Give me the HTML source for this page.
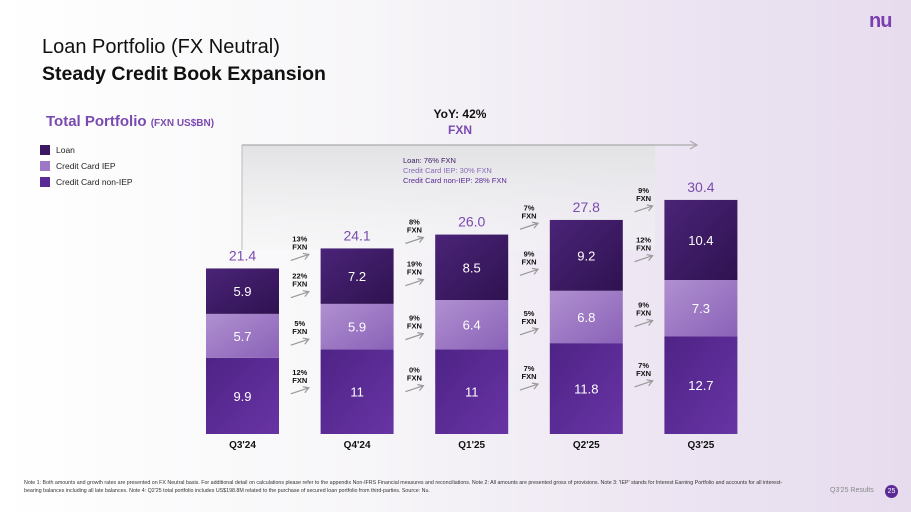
<!DOCTYPE html>
<html><head><meta charset="utf-8">
<style>
body{margin:0;width:911px;height:512px;overflow:hidden;font-family:"Liberation Sans",sans-serif;
background:linear-gradient(90deg,#ffffff 0%,#f7f6f8 40%,#ece4f2 75%,#e6dcee 100%);position:relative}
.abs{position:absolute}
.leg{position:absolute;left:40px;font-size:8.5px;color:#222;display:flex;align-items:center}
.leg i{display:inline-block;width:10px;height:10px;margin-right:6px}
</style></head><body>
<svg class="abs" style="left:0;top:0" width="911" height="512" id="chart">
<defs>
<linearGradient id="gb" x1="0" y1="0" x2="0" y2="1"><stop offset="0" stop-color="#e2e2e4"/><stop offset="1" stop-color="#f4f4f5" stop-opacity="0.4"/></linearGradient>
<linearGradient id="gl" x1="0" y1="0" x2="1" y2="1"><stop offset="0" stop-color="#4a2478"/><stop offset="1" stop-color="#2f1250"/></linearGradient>
<linearGradient id="gi" x1="0" y1="0" x2="1" y2="1"><stop offset="0" stop-color="#b090d0"/><stop offset="1" stop-color="#8a62b8"/></linearGradient>
<linearGradient id="gn" x1="0" y1="0" x2="1" y2="1"><stop offset="0" stop-color="#4e2386"/><stop offset="1" stop-color="#6834a4"/></linearGradient>
</defs>
<rect x="242" y="145" width="413" height="105" fill="url(#gb)"/>
<line x1="242" y1="145" x2="242" y2="250" stroke="#bbb" stroke-width="1"/>
<line x1="242" y1="145" x2="696" y2="145" stroke="#aaa" stroke-width="1.2"/>
<path d="M690,141 L697,145 L690,149" fill="none" stroke="#aaa" stroke-width="1.2"/>
<g id="marks"></g>
</svg>
<div class="abs" style="left:42px;top:34px;font-size:20px;line-height:27px;color:#111">Loan Portfolio (FX Neutral)<br><span style="font-weight:bold;font-size:19.5px">Steady Credit Book Expansion</span></div>
<div class="abs" style="left:869px;top:10px;font-size:20px;font-weight:bold;color:#7b3fb0;letter-spacing:-1px">nu</div>
<div class="abs" style="left:46px;top:113px;font-size:15px;font-weight:bold;color:#7a4ab0">Total Portfolio <span style="font-size:10px">(FXN US$BN)</span></div>
<div class="leg" style="top:145px"><i style="background:#3a1862"></i>Loan</div>
<div class="leg" style="top:161px"><i style="background:#9c78c6"></i>Credit Card IEP</div>
<div class="leg" style="top:177px"><i style="background:#5b2a94"></i>Credit Card non-IEP</div>
<div class="abs" style="left:400px;top:106px;width:120px;text-align:center;font-size:12px;font-weight:bold;line-height:16px;color:#111">YoY: 42%<br><span style="color:#7a4ab0">FXN</span></div>
<div class="abs" style="left:403px;top:156px;font-size:7.5px;line-height:10px;color:#3a1862">Loan: 76% FXN<br><span style="color:#8a6ab8">Credit Card IEP: 30% FXN</span><br><span style="color:#5b2a94">Credit Card non-IEP: 28% FXN</span></div>
<div class="abs" style="left:24px;top:479px;width:770px;font-size:5.3px;line-height:8px;color:#333">Note 1: Both amounts and growth rates are presented on FX Neutral basis. For additional detail on calculations please refer to the appendix Non-IFRS Financial measures and reconciliations. Note 2: All amounts are presented gross of provisions. Note 3: 'IEP' stands for Interest Earning Portfolio and accounts for all interest-bearing balances including all late balances. Note 4: Q2'25 total portfolio includes US$198.8M related to the purchase of secured loan portfolio from third-parties. Source: Nu.</div>
<div class="abs" style="left:830px;top:487px;font-size:7px;color:#888">Q3'25 Results</div>
<div class="abs" style="left:885px;top:485px;width:13px;height:13px;border-radius:50%;background:#5b2a94;color:#fff;font-size:7px;text-align:center;line-height:13px">25</div>
<script>
const categories=["Q3'24","Q4'24","Q1'25","Q2'25","Q3'25"];
const nonIep=[9.9,11,11,11.8,12.7];
const iep=[5.7,5.9,6.4,6.8,7.3];
const loan=[5.9,7.2,8.5,9.2,10.4];
const totals=["21.4","24.1","26.0","27.8","30.4"];
const nonIepLabels=["9.9","11","11","11.8","12.7"];
const iepLabels=["5.7","5.9","6.4","6.8","7.3"];
const loanLabels=["5.9","7.2","8.5","9.2","10.4"];
const growthTotal=["13%","8%","7%","9%"];
const growthLoan=["22%","19%","9%","12%"];
const growthIep=["5%","9%","5%","9%"];
const growthNonIep=["12%","0%","7%","7%"];
const NS="http://www.w3.org/2000/svg";
const g=document.getElementById('marks');
const base=434,k=7.7,x0=206,step=114.6,bw=73;
const xs=i=>x0+i*step;
const ys=v=>base-v*k;
function mk(t,a){const e=document.createElementNS(NS,t);for(const n in a)e.setAttribute(n,a[n]);g.appendChild(e);return e;}
function txt(x,y,s,size,fill,w){const e=mk('text',{x:x,y:y,'text-anchor':'middle','font-size':size,fill:fill,'font-family':'Liberation Sans, sans-serif','font-weight':w||'normal'});e.textContent=s;return e;}
const segs=[];
categories.forEach((c,i)=>{
  const x=xs(i);
  const b0=0,b1=nonIep[i],b2=b1+iep[i],b3=b2+loan[i];
  segs.push([[b0,b1],[b1,b2],[b2,b3],b3]);
  const r1=mk('rect',{x:x,y:ys(b1),width:bw,height:ys(b0)-ys(b1),fill:'url(#gn)'});
  
  
  const r2=mk('rect',{x:x,y:ys(b2),width:bw,height:ys(b1)-ys(b2),fill:'url(#gi)'});
  
  
  const r3=mk('rect',{x:x,y:ys(b3),width:bw,height:ys(b2)-ys(b3),fill:'url(#gl)'});
  
  
  txt(x+bw/2,ys(b1/2)+5,nonIepLabels[i],13,'#fff');
  txt(x+bw/2,ys((b1+b2)/2)+5,iepLabels[i],13,'#fff');
  txt(x+bw/2,ys((b2+b3)/2)+5,loanLabels[i],13,'#fff');
  const t=txt(x+bw/2,ys(b3)-8,totals[i],14,'#7a4ab0');
  
  
  const cl=txt(x+bw/2,base+14,c,10,'#111','bold');
  
  
});
function growth(x,y,s){
  txt(x,y-13,s,7.5,'#111','bold');
  txt(x,y-5,'FXN',7.5,'#111','bold');
  mk('path',{d:`M${x-9},${y+6} L${x+9},${y}`,stroke:'#999','stroke-width':1.2,fill:'none'});
  mk('path',{d:`M${x+3},${y-1} L${x+9},${y} L${x+5},${y+5}`,stroke:'#999','stroke-width':1.2,fill:'none'});
}
for(let i=0;i<4;i++){
  const gx=xs(i)+bw+(step-bw)/2;
  const a=segs[i],b=segs[i+1];
  const mid=(s)=>(ys((a[s][0]+a[s][1])/2)+ys((b[s][0]+b[s][1])/2))/2;
  growth(gx,mid(0)-6,growthNonIep[i]);
  growth(gx,mid(1)+8,growthIep[i]);
  growth(gx,mid(2)+8,growthLoan[i]);
  growth(gx,(ys(a[3])+ys(b[3]))/2-4,growthTotal[i]);
}
</script>
</body></html>
